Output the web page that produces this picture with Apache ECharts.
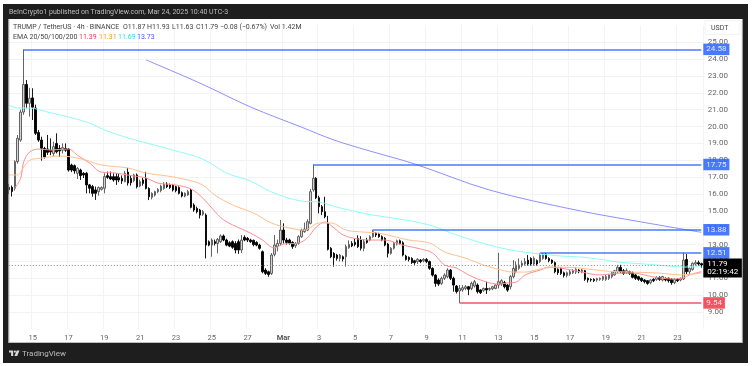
<!DOCTYPE html>
<html><head><meta charset="utf-8">
<script src="https://cdn.jsdelivr.net/npm/echarts@6/dist/echarts.min.js"></script>
<style>html,body{margin:0;padding:0;background:#fff}#c{width:755px;height:366px;filter:blur(.4px)}</style>
</head><body><div id="c"></div>
<script>
// Candles are [open, close, low, high]
const febA=[[16.4,16.25,16.0,16.6],[16.4,16.15,15.85,16.5],[16.34,17.92,16.2,18.0],[17.92,19.3,17.8,19.5],[19.2,20.86,19.1,21.0],[20.86,22.5,20.7,24.58],[22.5,21.38,21.08,22.76],[21.38,21.68,20.59,22.3],[21.7,21.15,20.39,22.27],[21.1,19.6,19.5,21.3],[19.65,19.2,19.1,19.8],[19.2,18.71,17.98,19.4],[18.7,18.2,18.1,18.8],[18.67,18.47,18.32,19.5],[18.6,18.5,18.3,19.3],[18.41,18.81,18.22,19.1],[19.0,18.5,18.41,19.6],[18.7,18.55,18.2,18.9],[18.6,18.75,18.4,19.0],[18.7,18.6,18.5,19.0],[18.67,17.42,17.33,18.72],[17.72,17.42,17.3,17.8],[17.68,17.37,17.2,17.75],[17.23,17.52,16.89,17.6],[17.42,17.09,16.83,17.5],[17.23,17.13,16.95,17.3],[17.23,16.54,16.04,17.3],[16.54,16.34,16.04,16.6],[16.44,16.04,15.84,16.54],[16.24,16.04,15.65,16.44],[16.14,16.38,15.9,16.45],[16.28,16.38,16.2,16.45],[16.34,17.03,16.04,17.23],[17.09,16.99,16.9,17.33],[17.03,16.89,16.83,17.33],[17.03,16.83,16.73,17.23],[17.03,16.83,16.54,17.23],[16.97,16.83,16.7,17.2],[16.93,16.77,16.6,17.1],[16.73,17.23,16.69,17.37],[17.3,16.65,16.5,17.55]];
const febB=[[16.93,16.67,16.5,17.1],[16.79,17.13,16.7,17.2],[17.13,16.43,16.33,17.22],[16.47,16.73,16.4,16.85],[16.83,16.63,16.5,16.95],[16.93,16.33,16.27,17.32],[16.33,15.84,15.64,16.4],[15.8,16.04,15.68,16.1],[15.94,16.14,15.85,16.2],[16.14,16.27,16.05,16.35],[16.2,16.47,16.1,16.55],[16.33,16.59,16.25,16.7],[16.59,16.43,16.35,16.7],[16.55,16.39,16.3,16.62],[16.53,16.24,16.15,16.6],[16.43,16.2,16.1,16.5],[16.39,16.04,15.98,16.45],[16.08,15.88,15.8,16.15],[15.88,16.04,15.8,16.1],[15.94,16.14,15.9,16.24],[16.24,15.21,15.15,16.3],[15.35,15.05,14.95,15.45],[15.15,14.95,14.85,15.25],[15.05,14.75,14.55,15.12],[14.8,14.95,14.7,15.05],[14.75,12.97,12.18,14.85],[13.17,12.97,12.9,13.25],[12.97,13.27,12.28,13.37],[13.17,13.07,12.95,13.3],[13.07,13.31,12.48,13.4],[13.17,13.51,13.1,13.6],[13.51,13.27,13.2,13.6],[13.27,12.97,12.9,13.35],[13.11,12.91,12.85,13.2],[13.17,12.84,12.75,13.25],[13.07,12.68,12.48,13.2],[13.17,12.68,12.45,13.3],[12.68,13.27,12.5,13.57],[13.43,13.27,13.2,13.55],[13.37,13.27,13.15,13.45],[13.27,13.17,13.1,13.35],[13.25,13.0,12.9,13.3]];
const marA=[[13.13,12.97,12.9,13.2],[12.97,12.78,12.7,13.05],[12.58,11.39,11.3,12.65],[11.49,11.29,11.2,11.6],[11.39,11.23,11.09,11.45],[11.29,12.38,11.2,12.5],[12.42,12.97,12.3,13.57],[12.88,13.07,12.6,13.3],[13.07,13.86,12.95,14.46],[13.86,13.27,13.07,14.26],[13.27,13.13,13.0,13.4],[13.27,13.07,13.0,13.35],[13.13,12.88,12.75,13.2],[12.93,13.07,12.8,13.15],[13.07,13.47,13.0,13.55],[13.47,13.86,13.4,13.95],[13.77,13.92,13.7,14.3],[13.86,14.36,13.8,14.5],[14.26,16.14,14.2,16.3],[16.24,16.93,16.14,17.75],[16.93,15.78,15.7,17.0],[15.78,15.25,14.85,15.9],[15.25,14.95,14.75,15.35],[14.95,14.65,14.56,15.84],[14.26,12.72,12.65,14.7],[12.78,12.28,12.2,12.85],[12.48,12.22,11.69,12.55],[12.38,12.18,12.05,12.45],[12.18,12.38,12.0,12.45],[12.28,12.14,12.0,12.35],[12.28,12.88,11.69,13.0],[12.82,13.01,12.75,13.25],[13.07,12.93,12.85,13.2],[13.13,13.01,12.9,13.35],[13.37,12.88,12.8,13.55],[13.27,12.78,12.65,13.5],[12.78,13.17,12.6,13.3],[13.27,13.13,13.05,13.4],[13.27,13.47,13.2,13.55],[13.47,13.77,13.4,13.88],[13.67,13.57,13.45,13.75]];
const marB=[[13.63,13.47,13.4,13.7],[13.47,13.27,13.2,13.55],[13.37,12.97,12.9,13.45],[13.03,12.48,12.24,13.1],[12.48,12.78,12.4,12.85],[12.78,13.07,12.7,13.15],[13.03,13.23,12.95,13.3],[13.23,13.07,13.0,13.3],[13.11,12.38,12.3,13.2],[12.32,12.12,12.05,12.4],[12.24,12.12,12.0,12.3],[12.18,11.93,11.85,12.25],[12.04,11.93,11.8,12.1],[11.99,12.12,11.85,12.2],[12.08,11.99,11.9,12.15],[12.04,12.12,11.95,12.2],[12.12,11.99,11.9,12.2],[11.99,11.59,11.5,12.05],[11.59,11.19,11.1,11.65],[11.19,10.7,10.5,11.25],[10.9,10.66,10.55,11.0],[10.7,11.0,10.6,11.1],[11.0,11.19,10.9,11.3],[11.1,11.49,11.0,11.6],[11.49,11.0,10.9,11.55],[11.0,10.6,10.21,11.1],[10.54,10.21,10.1,10.6],[10.25,10.4,9.54,10.6],[10.31,10.44,10.2,10.6],[10.4,10.5,10.3,10.6],[10.5,10.35,10.0,10.55],[10.4,10.7,10.3,10.8],[10.54,10.8,10.45,10.9],[10.6,10.21,10.1,10.7],[10.31,10.15,10.07,10.35],[10.29,10.4,10.2,10.45],[10.4,10.31,10.07,10.8],[10.35,10.4,10.25,10.45],[10.38,10.5,10.3,10.55],[10.4,10.6,10.35,10.65]];
const marC=[[10.6,10.8,10.4,12.51],[10.66,10.86,10.55,10.95],[10.74,10.5,10.4,10.85],[10.6,10.3,10.2,10.65],[10.5,11.1,10.35,11.2],[11.1,11.59,11.0,12.08],[11.39,11.79,11.3,12.0],[11.59,11.79,11.5,12.18],[11.79,11.89,11.65,12.05],[11.85,11.99,11.75,12.2],[12.08,11.85,11.75,12.38],[12.18,11.85,11.75,12.25],[11.85,12.18,11.75,12.3],[12.05,11.85,11.75,12.12],[11.99,12.38,11.9,12.5],[12.18,12.44,12.1,12.51],[12.44,12.18,12.1,12.51],[12.18,12.05,11.95,12.25],[12.08,11.93,11.85,12.12],[11.93,11.39,11.3,12.0],[11.53,11.33,11.2,11.6],[11.59,11.29,11.2,11.65],[11.33,11.17,11.05,11.4],[11.17,11.33,11.05,11.4],[11.25,11.39,11.15,11.5],[11.33,11.45,11.25,11.55],[11.37,11.53,11.25,11.65],[11.49,11.39,11.3,11.55],[11.39,11.49,11.3,11.58],[11.45,10.94,10.85,11.5],[11.0,10.9,10.75,11.05],[10.93,10.9,10.8,11.0],[10.94,10.86,10.78,11.0],[10.9,10.98,10.8,11.03],[10.94,11.0,10.85,11.05],[10.94,11.1,10.85,11.15]];
const marD=[[10.94,11.1,10.85,11.2],[11.0,11.2,10.9,11.25],[11.1,11.33,11.0,11.4],[11.2,11.45,11.15,11.5],[11.39,11.65,11.3,11.8],[11.65,11.39,11.3,11.8],[11.45,11.29,11.2,11.55],[11.33,11.45,11.25,11.59],[11.39,11.29,11.2,11.45],[11.33,11.06,11.0,11.4],[11.2,11.0,10.9,11.25],[11.1,10.94,10.85,11.15],[11.0,10.86,10.78,11.05],[10.9,10.8,10.7,10.95],[10.86,10.7,10.62,10.9],[10.74,10.9,10.65,10.95],[10.94,10.86,10.78,11.0],[10.94,11.06,10.85,11.12],[11.06,10.94,10.85,11.12],[10.9,11.1,10.82,11.15],[11.0,10.9,10.82,11.05],[11.0,10.86,10.75,11.05],[10.94,10.74,10.62,11.0],[10.74,10.94,10.65,11.0],[10.94,10.86,10.78,11.0],[10.9,11.0,10.82,11.05],[10.96,12.08,10.9,12.51],[12.12,11.39,11.25,12.44],[11.39,11.59,11.2,11.65],[11.53,11.89,11.45,11.95],[11.85,11.93,11.75,12.08],[11.93,11.85,11.75,12.05],[11.87,11.79,11.63,11.93]];
// EMA readings as [candle index, price]
const ema20=[[2,16.35],[4,16.95],[5,17.9],[7,18.49],[10,18.67],[14,18.61],[20,18.67],[23,18.3],[27,17.84],[31,17.3],[36,17.24],[40,17.12],[42,17.07],[46,16.95],[50,16.65],[56,16.53],[61,16.3],[65,15.76],[68,15.17],[72,14.46],[78,13.92],[81,13.68],[85,13.27],[89,12.8],[92,13.03],[97,13.09],[100,13.39],[103,14.04],[106,14.34],[109,13.98],[112,13.57],[117,13.33],[122,13.27],[126,13.27],[132,12.97],[138,12.74],[142,12.5],[146,11.79],[150,11.61],[154,11.2],[160,10.78],[164,10.66],[167,10.72],[170,10.78],[173,11.2],[178,11.49],[181,11.67],[185,11.61],[192,11.37],[198,11.2],[205,11.31],[209,11.31],[216,11.08],[222,10.96],[226,11.02],[228,11.2],[232,11.39]];
const ema50=[[0,17.13],[3,17.13],[5,17.6],[7,18.0],[11,18.13],[17,18.25],[21,18.2],[26,18.0],[31,17.72],[40,17.54],[46,17.24],[53,17.07],[60,16.83],[65,16.53],[69,15.94],[75,15.35],[82,14.87],[88,14.28],[94,13.98],[99,13.86],[104,14.28],[108,14.28],[113,13.86],[119,13.74],[124,13.68],[134,13.27],[141,13.09],[146,12.56],[153,12.2],[159,11.79],[165,11.49],[169,11.37],[173,11.37],[178,11.55],[184,11.67],[191,11.61],[200,11.43],[209,11.37],[218,11.31],[225,11.2],[232,11.31]];
const ema100=[[0,21.28],[3,21.1],[7,21.1],[13,20.86],[20,20.57],[27,20.21],[32,19.8],[40,19.32],[45,19.08],[55,18.6],[65,18.07],[73,17.24],[81,16.77],[88,16.12],[98,15.58],[104,15.52],[111,15.17],[122,14.75],[133,14.46],[142,14.1],[150,13.57],[161,12.97],[170,12.62],[178,12.44],[185,12.32],[192,12.26],[200,12.08],[204,11.96],[213,11.85],[221,11.73],[226,11.67],[232,11.69]];
const ema200=[[46,23.95],[64,22.58],[81,21.16],[98,19.97],[109,19.2],[120,18.6],[136,17.78],[161,16.24],[190,15.05],[212,14.34],[232,13.73]];
// Horizontal levels: [first candle index, price]
const levelsBlue=[[5,24.58],[102,17.75],[122,13.88],[178,12.51]];
const levelsRed=[[151,9.54]];
const lastPrice=11.79, lastCountdown='02:19:42';
const tickLabels=['15','17','19','21','23','25','27','Mar','3','5','7','9','11','13','15','17','19','21','23'];
const firstTick=8, tickStep=12;
const headerTitle='BeInCrypto1 published on TradingView.com, Mar 24, 2025 10:40 UTC-3';
const legendRow=[['TRUMP / TetherUS · 4h · BINANCE',13],['O11.87',123],['H11.93',147],['L11.63',172],['C11.79',196],['−0.08 (−0.67%)',220],['Vol 1.42M',270]];
const emaLegend=[['EMA 20/50/100/200',13,'#444'],['11.39',79,'#f23645'],['11.31',99,'#ff9800'],['11.69',118,'#26e0f0'],['13.73',137,'#5050ff']];

const candles=[...febA,...febB,...marA,...marB,...marC,...marD];
const n=candles.length;
const cats=candles.map((_,i)=>'c'+i);
const FONT='Roboto, sans-serif';
const isTick=i=>i>=firstTick&&(i-firstTick)%tickStep===0;
const last=n-1;
function tag(bg,text,extra){return Object.assign({show:true,position:'end',distance:2,formatter:text,color:'#fff',backgroundColor:bg,padding:[1.5,3,1,3],fontSize:8,fontFamily:FONT,lineHeight:9},extra||{});}
function level(l,col){return [{coord:[l[0],l[1]],lineStyle:{color:col,width:1.6,type:'solid',opacity:.85},label:tag(col,l[1].toFixed(2))},{coord:[last,l[1]]}];}
const mk=[...levelsBlue.map(l=>level(l,'#2962ff')),...levelsRed.map(l=>level(l,'#f23645')),
 [{coord:[0,lastPrice],lineStyle:{color:'#8a8a8a',width:1,type:[1,2],opacity:1},
   label:tag('#000',lastPrice.toFixed(2)+'\n'+lastCountdown,{padding:[2,4,2,4],lineHeight:7.5,offset:[0,3]})},{coord:[last,lastPrice]}]];
function emaSeries(name,data,col){return {name,type:'line',data,smooth:.35,showSymbol:false,symbol:'none',lineStyle:{color:col,width:1},z:3,silent:true,encode:{x:0,y:1}};}
const txt=(text,x,y,fill,font,extra)=>Object.assign({type:'text',x,y,z:200,silent:true,style:{text,fill,font:font||('7px '+FONT),textVerticalAlign:'middle'}},extra||{});
const rect=(x,y,w,h,fill,z)=>({type:'rect',shape:{x,y,width:w,height:h},style:{fill},z:z||150,silent:true});
const graphic=[
 rect(3,4,745,15,'#1e1e1e'),rect(3,4,5.5,359,'#1e1e1e'),rect(742.5,4,5.5,359,'#1e1e1e'),rect(3,343,745,20,'#1e1e1e'),
 rect(8.5,19,.8,324,'#aaa',151),rect(741.8,19,.8,324,'#aaa',151),rect(8.5,342.2,734,.9,'#aaa',151),
 {type:'rect',shape:{x:705,y:20.5,width:35,height:14},style:{fill:'#fff',stroke:'#f0f0f0',lineWidth:.8},z:100,silent:true},
 txt('USDT',711,28,'#444'),
 txt(headerTitle,9,12.5,'#bdbdbd','7px '+FONT),
 ...legendRow.map(r=>txt(r[0],r[1],27.5,'#444')),
 ...emaLegend.map(r=>txt(r[0],r[1],37,r[2])),
 {type:'polygon',z:200,silent:true,shape:{points:[[9,350.5],[13.2,350.5],[13.2,356],[11.1,356],[11.1,352.6],[9,352.6]]},style:{fill:'#d8d8d8'}},
 {type:'polygon',z:200,silent:true,shape:{points:[[16.7,350.5],[19.5,350.5],[17.2,356],[14.4,356]]},style:{fill:'#d8d8d8'}},
 {type:'circle',z:200,silent:true,shape:{cx:14.9,cy:351.6,r:1.1},style:{fill:'#d8d8d8'}},
 txt('TradingView',22,353.5,'#bdbdbd','8px '+FONT)
];
const chart=echarts.init(document.getElementById('c'),null,{renderer:'canvas'});
chart.setOption({
 animation:false,backgroundColor:'#fff',
 grid:{left:7.3,width:695.5,top:25.4,height:303.5},
 tooltip:{show:false},
 graphic,
 xAxis:{type:'category',data:cats,boundaryGap:true,
  axisLine:{show:false},axisTick:{show:false,alignWithLabel:true,interval:isTick},
  splitLine:{show:true,interval:isTick,lineStyle:{color:'#f2f3f5',width:1}},
  axisLabel:{interval:isTick,margin:5,color:'#666',fontSize:7.5,fontFamily:FONT,hideOverlap:false,
   formatter:(v,i)=>{const t=tickLabels[(i-firstTick)/tickStep];return t==='Mar'?'{b|Mar}':t;},
   rich:{b:{fontWeight:'bold',color:'#555',fontSize:7.5,fontFamily:FONT}}}},
 yAxis:{type:'value',position:'right',min:8,max:26,interval:1,scale:true,
  axisLine:{show:false},axisTick:{show:false},
  splitLine:{show:true,showMinLine:false,showMaxLine:false,lineStyle:{color:'#f2f3f5',width:1}},
  axisLabel:{margin:5,color:'#666',fontSize:8,fontFamily:FONT,
   formatter:v=>(v<=8||v>=26)?'':v.toFixed(2)}},
 series:[
  {type:'candlestick',data:candles,barWidth:2,z:2,silent:true,
   itemStyle:{color:'#d4d4d4',borderColor:'#555',color0:'#000',borderColor0:'#000',borderWidth:.9},
   markLine:{silent:true,symbol:'none',animation:false,z:6,data:mk}},
  emaSeries('EMA 20',ema20,'#ff8f8f'),
  emaSeries('EMA 50',ema50,'#ffc08f'),
  emaSeries('EMA 100',ema100,'#8ffbfb'),
  emaSeries('EMA 200',ema200,'#8f8fff')
 ]
});
</script></body></html>
